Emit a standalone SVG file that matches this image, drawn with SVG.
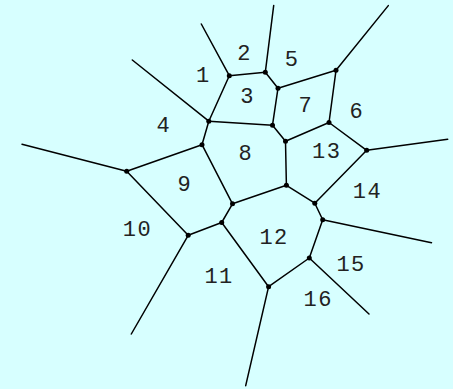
<svg xmlns="http://www.w3.org/2000/svg" width="453" height="389" viewBox="0 0 453 389">
<style>
.e{stroke:#000;stroke-width:1.5;fill:none;stroke-linecap:round;stroke-linejoin:round}
.v{fill:#000}
.l{font-family:"Liberation Mono","DejaVu Sans Mono",monospace;font-size:22px;fill:#222;text-anchor:middle;letter-spacing:1.5px}
</style>
<rect width="453" height="389" fill="#d7ffff"/>
<g id="connectors" class="e">
<line x1="229.3" y1="75.7" x2="265.3" y2="72.3"/>
<line x1="229.3" y1="75.7" x2="201.3" y2="24"/>
<line x1="265.3" y1="72.3" x2="273.7" y2="5.5"/>
<line x1="265.3" y1="72.3" x2="278" y2="88.2"/>
<line x1="229.3" y1="75.7" x2="208.8" y2="121.2"/>
<line x1="208.8" y1="121.2" x2="132.3" y2="60"/>
<line x1="208.8" y1="121.2" x2="272.5" y2="125.2"/>
<line x1="278" y1="88.2" x2="272.5" y2="125.2"/>
<line x1="278" y1="88.2" x2="336" y2="70.3"/>
<line x1="336" y1="70.3" x2="388.3" y2="5.6"/>
<line x1="336" y1="70.3" x2="329" y2="122.5"/>
<line x1="329" y1="122.5" x2="285.5" y2="141.2"/>
<line x1="272.5" y1="125.2" x2="285.5" y2="141.2"/>
<line x1="329" y1="122.5" x2="366.7" y2="150.3"/>
<line x1="366.7" y1="150.3" x2="447.7" y2="139.3"/>
<line x1="285.5" y1="141.2" x2="286.4" y2="185.3"/>
<line x1="366.7" y1="150.3" x2="314.8" y2="203.2"/>
<line x1="286.4" y1="185.3" x2="314.8" y2="203.2"/>
<line x1="314.8" y1="203.2" x2="322.7" y2="219.8"/>
<line x1="322.7" y1="219.8" x2="431.5" y2="242.7"/>
<line x1="322.7" y1="219.8" x2="309.3" y2="258"/>
<line x1="309.3" y1="258" x2="369" y2="314"/>
<line x1="309.3" y1="258" x2="268.6" y2="286.7"/>
<line x1="268.6" y1="286.7" x2="245.7" y2="385.7"/>
<line x1="268.6" y1="286.7" x2="221.7" y2="222.5"/>
<line x1="221.7" y1="222.5" x2="232.5" y2="203.8"/>
<line x1="232.5" y1="203.8" x2="286.4" y2="185.3"/>
<line x1="221.7" y1="222.5" x2="188.2" y2="235.3"/>
<line x1="188.2" y1="235.3" x2="131.3" y2="334"/>
<line x1="188.2" y1="235.3" x2="126.7" y2="171.3"/>
<line x1="126.7" y1="171.3" x2="22" y2="144.3"/>
<line x1="126.7" y1="171.3" x2="202" y2="144.7"/>
<line x1="202" y1="144.7" x2="208.8" y2="121.2"/>
<line x1="202" y1="144.7" x2="232.5" y2="203.8"/>
</g>
<g id="vertices" class="v">
<circle cx="229.3" cy="75.7" r="2.5"/>
<circle cx="265.3" cy="72.3" r="2.5"/>
<circle cx="278" cy="88.2" r="2.5"/>
<circle cx="208.8" cy="121.2" r="2.5"/>
<circle cx="272.5" cy="125.2" r="2.5"/>
<circle cx="336" cy="70.3" r="2.5"/>
<circle cx="329" cy="122.5" r="2.5"/>
<circle cx="285.5" cy="141.2" r="2.5"/>
<circle cx="366.7" cy="150.3" r="2.5"/>
<circle cx="286.4" cy="185.3" r="2.5"/>
<circle cx="314.8" cy="203.2" r="2.5"/>
<circle cx="322.7" cy="219.8" r="2.5"/>
<circle cx="309.3" cy="258" r="2.5"/>
<circle cx="268.6" cy="286.7" r="2.5"/>
<circle cx="221.7" cy="222.5" r="2.5"/>
<circle cx="232.5" cy="203.8" r="2.5"/>
<circle cx="188.2" cy="235.3" r="2.5"/>
<circle cx="126.7" cy="171.3" r="2.5"/>
<circle cx="202" cy="144.7" r="2.5"/>
</g>
<g id="n1"><text class="l" x="203.3" y="81.5">1</text></g>
<g id="n2"><text class="l" x="244.5" y="60">2</text></g>
<g id="n3"><text class="l" x="247.5" y="103">3</text></g>
<g id="n4"><text class="l" x="163.8" y="131.5">4</text></g>
<g id="n5"><text class="l" x="292" y="66">5</text></g>
<g id="n6"><text class="l" x="356.8" y="118">6</text></g>
<g id="n7"><text class="l" x="305.8" y="111.5">7</text></g>
<g id="n8"><text class="l" x="245.8" y="160">8</text></g>
<g id="n9"><text class="l" x="184.8" y="191">9</text></g>
<g id="n10"><text class="l" x="137.5" y="236">10</text></g>
<g id="n11"><text class="l" x="219.1" y="283.3">11</text></g>
<g id="n12"><text class="l" x="274.1" y="244">12</text></g>
<g id="n13"><text class="l" x="326.8" y="158">13</text></g>
<g id="n14"><text class="l" x="367.5" y="198">14</text></g>
<g id="n15"><text class="l" x="351.1" y="271">15</text></g>
<g id="n16"><text class="l" x="318.3" y="306">16</text></g>
</svg>
